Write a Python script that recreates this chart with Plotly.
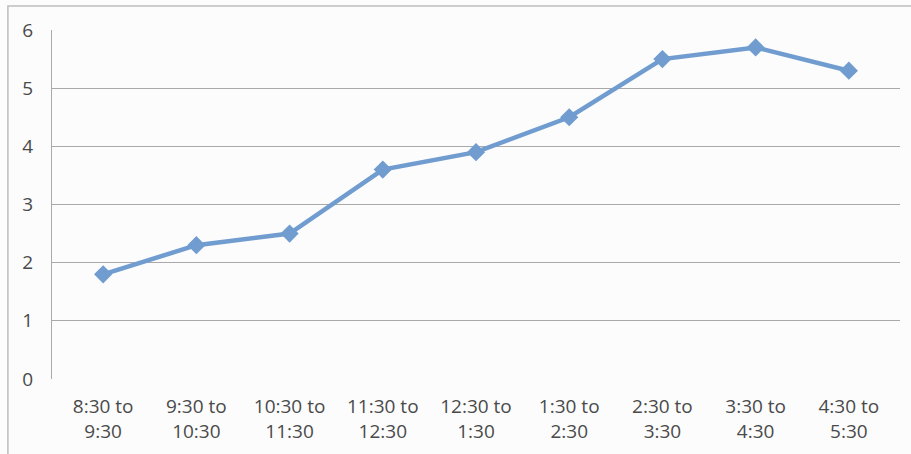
import plotly.graph_objects as go

categories = ["8:30 to<br>9:30", "9:30 to<br>10:30", "10:30 to<br>11:30", "11:30 to<br>12:30",
              "12:30 to<br>1:30", "1:30 to<br>2:30", "2:30 to<br>3:30", "3:30 to<br>4:30", "4:30 to<br>5:30"]
values = [1.8, 2.3, 2.5, 3.6, 3.9, 4.5, 5.5, 5.7, 5.3]
y_ticks = [0, 1, 2, 3, 4, 5, 6]

fig = go.Figure()
fig.add_trace(go.Scatter(
    x=categories, y=values, mode="lines+markers",
    line=dict(color="#709ccf", width=4.5),
    marker=dict(symbol="diamond", size=14, color="#709ccf"),
    showlegend=False,
))

fig.update_layout(
    width=911, height=454,
    margin=dict(l=52, r=11, t=30, b=75),
    paper_bgcolor="#fcfcfd", plot_bgcolor="#fcfcfd",
    font=dict(family="Open Sans, Liberation Sans, sans-serif", size=19, color="#4a4a4a"),
    xaxis=dict(type="category", showgrid=False, zeroline=False, ticks="", automargin=False,
               showline=False, tickfont=dict(size=19), ticklabelstandoff=14),
    yaxis=dict(range=[0, 6], tickvals=y_ticks, showgrid=True, gridcolor="#a9a9a9", gridwidth=1,
               zeroline=False, showline=True, linecolor="#a9a9a9", linewidth=1, automargin=False,
               ticks="", ticklabelstandoff=14, tickfont=dict(size=19)),
    shapes=[
        dict(type="rect", xref="paper", yref="paper", x0=-0.052, x1=1.02, y0=-0.24, y1=1.069,
             line=dict(color="#bdbdbd", width=1.5), layer="below"),
    ],
)

fig.write_html("out.html", config={"displayModeBar": False},
               post_script="document.body.style.margin='0';")
